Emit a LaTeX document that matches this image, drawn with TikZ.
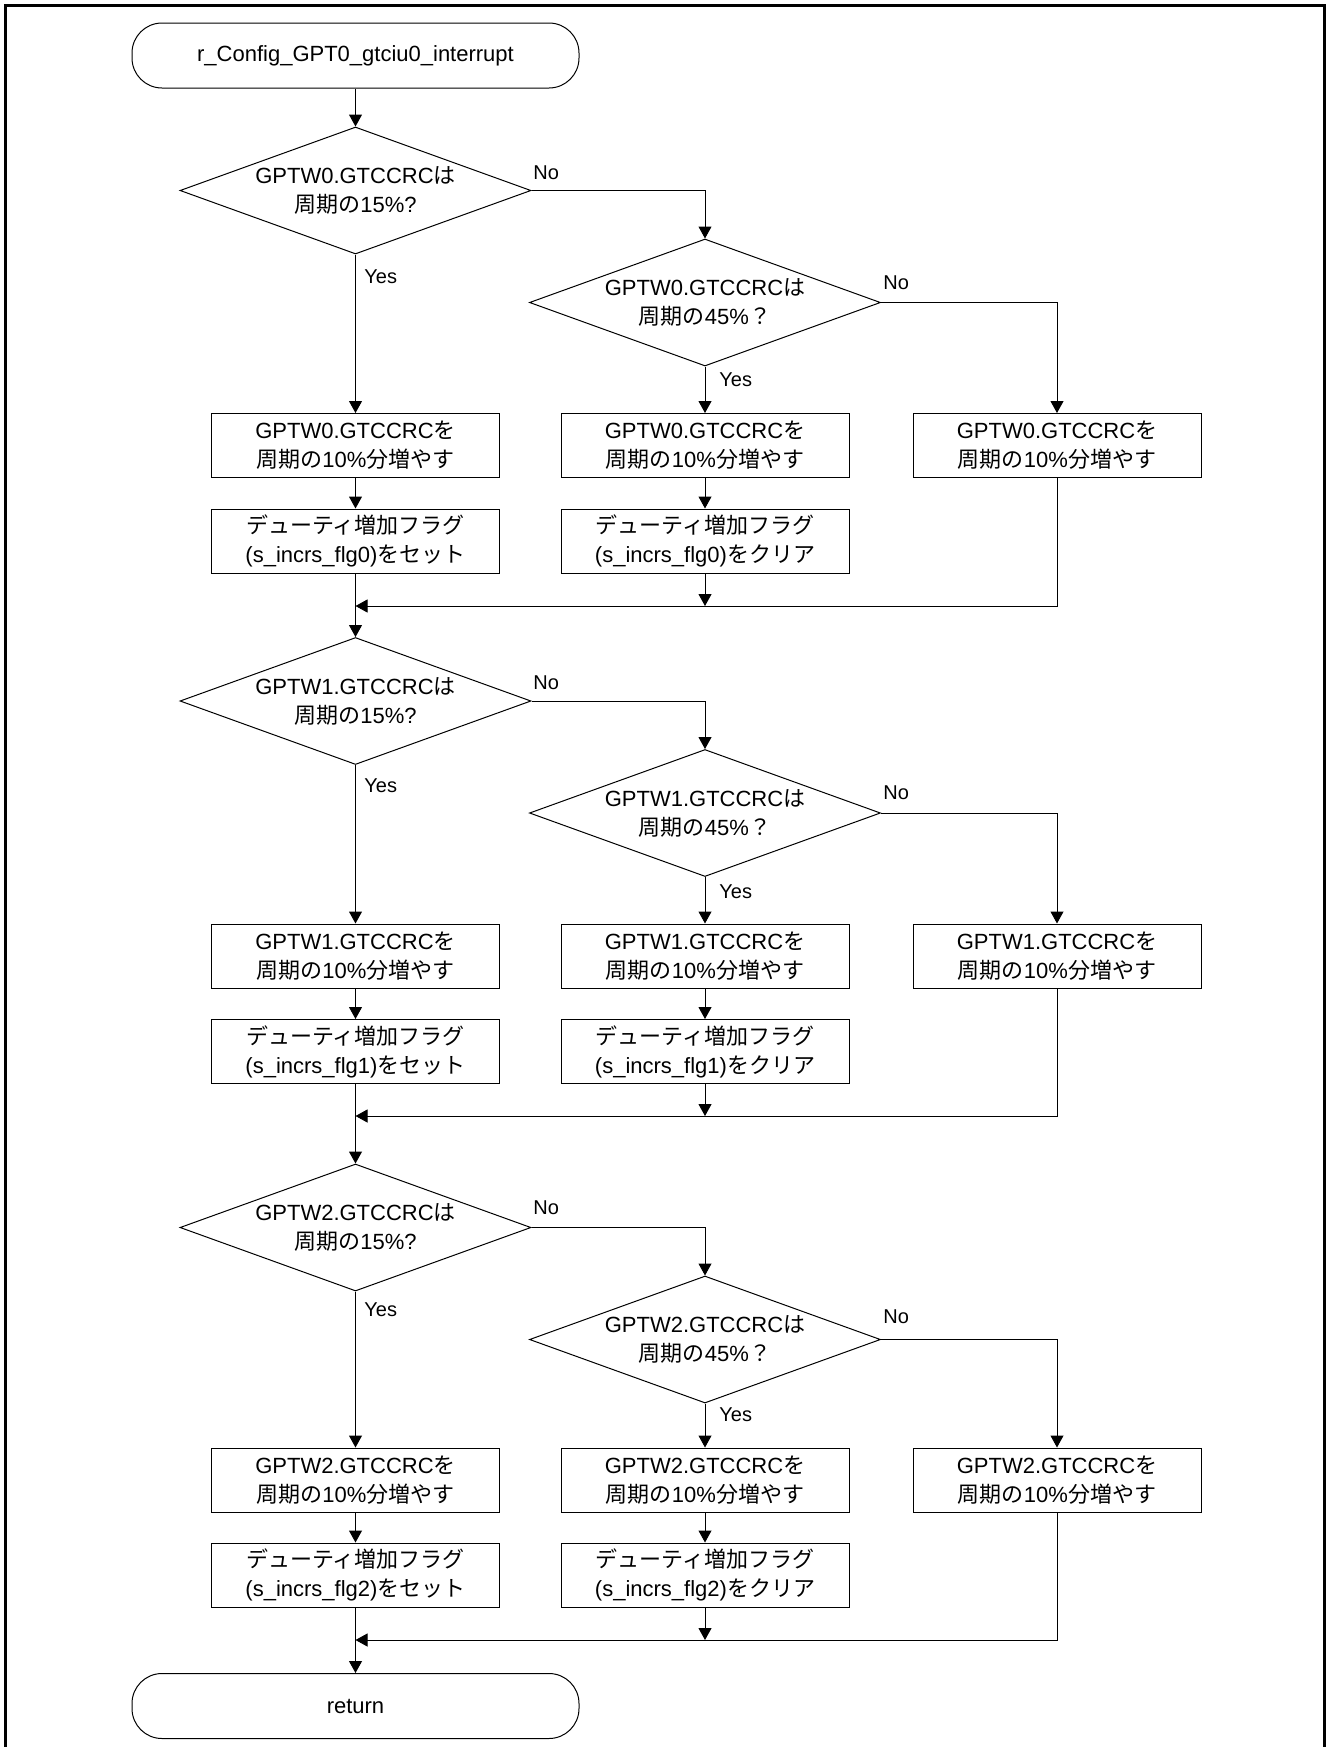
\documentclass[tikz,border=0pt]{standalone}
\usepackage{fontspec}
\setmainfont{Liberation Sans}
\newfontfamily\jp{Noto Sans CJK JP}
\usetikzlibrary{shapes.geometric,arrows.meta}
\newcommand\J[1]{{\jp #1}}
\newcommand\fcfs{\fontsize{11pt}{14.5pt}\selectfont}
\newcommand\fclf{\fontsize{10pt}{12pt}\selectfont}
\tikzset{
  fcbase/.style={draw, line width=0.5pt, inner sep=0pt, font=\fcfs},
  fcproc/.style={fcbase, rectangle, minimum width=144pt, minimum height=32pt, align=center},
  fcterm/.style={fcbase, rectangle, rounded corners=15pt, minimum width=223.5pt, minimum height=32.5pt},
  fcdec/.style={fcbase, diamond, minimum width=175.5pt, minimum height=63.5pt},
  fctext/.style={inner sep=0pt, align=center, font=\fcfs},
  fcarr/.style={line width=0.5pt, -{Triangle[length=6pt,width=6.5pt]}},
  fclbl/.style={font=\fclf, inner sep=0pt, anchor=west},
}
\begin{document}
\begin{tikzpicture}[x=0.5pt,y=-0.5pt]
\useasboundingbox (0,0) rectangle (1328,1747);
\fill[white] (0,0) rectangle (1328,1747);
\draw[line width=1.5pt] (5,1747) -- (5,5) -- (1324,5) -- (1324,1747);

\node[fcterm] (start) at (355.5,55.5) {r\_Config\_GPT0\_gtciu0\_interrupt};

\foreach \s/\ya/\yb/\yp/\yq/\ym/\na/\nb/\ea/\eb in {
  0/190.5/302.5/445.5/541/606/173/283/277/380,
  1/701/813/956/1051.5/1116/683/793/786/892,
  2/1227.5/1339.5/1480/1575/1640/1208/1317/1310/1415}{
  \node[fcdec] (a\s) at (355.5,\ya) {};
  \node[fctext] (at\s) at (a\s.center) {GPTW\s.GTCCRC\J{は}\\\J{周期の}15\%?};
  \node[fcdec] (b\s) at (705,\yb) {};
  \node[fctext] (bt\s) at (b\s.center) {GPTW\s.GTCCRC\J{は}\\\J{周期の}45\%\J{？}};
  \node[fcproc] (p\s) at (355.5,\yp) {GPTW\s.GTCCRC\J{を}\\\J{周期の}10\%\J{分増やす}};
  \node[fcproc] (q\s) at (355.5,\yq) {\J{デューティ増加フラグ}\\(s\_incrs\_flg\s)\J{をセット}};
  \node[fcproc] (pb\s) at (705,\yp) {GPTW\s.GTCCRC\J{を}\\\J{周期の}10\%\J{分増やす}};
  \node[fcproc] (qb\s) at (705,\yq) {\J{デューティ増加フラグ}\\(s\_incrs\_flg\s)\J{をクリア}};
  \node[fcproc] (r\s) at (1057,\yp) {GPTW\s.GTCCRC\J{を}\\\J{周期の}10\%\J{分増やす}};
  \coordinate (m\s) at (355.5,\ym);
  \coordinate (mb\s) at (705,\ym);
  \draw[fcarr] (a\s.east) -| (b\s.north);
  \draw[fcarr] (b\s.east) -| (r\s.north);
  \draw[fcarr] (a\s.south) -- (p\s.north);
  \draw[fcarr] (b\s.south) -- (pb\s.north);
  \draw[fcarr] (p\s.south) -- (q\s.north);
  \draw[fcarr] (pb\s.south) -- (qb\s.north);
  \draw[fcarr] (qb\s.south) -- (mb\s);
  \draw[fcarr] (r\s.south) |- (m\s);
  \node[fclbl] (na\s) at (533,\na) {No};
  \node[fclbl] (nb\s) at (883,\nb) {No};
  \node[fclbl] (ya\s) at (364,\ea) {Yes};
  \node[fclbl] (yb\s) at (719,\eb) {Yes};
}

\node[fcterm] (ret) at (355.5,1706) {return};

\draw[fcarr] (start.south) -- (a0.north);
\draw[fcarr] (q0.south) -- (a1.north);
\draw[fcarr] (q1.south) -- (a2.north);
\draw[fcarr] (q2.south) -- (ret.north);
\end{tikzpicture}
\end{document}
